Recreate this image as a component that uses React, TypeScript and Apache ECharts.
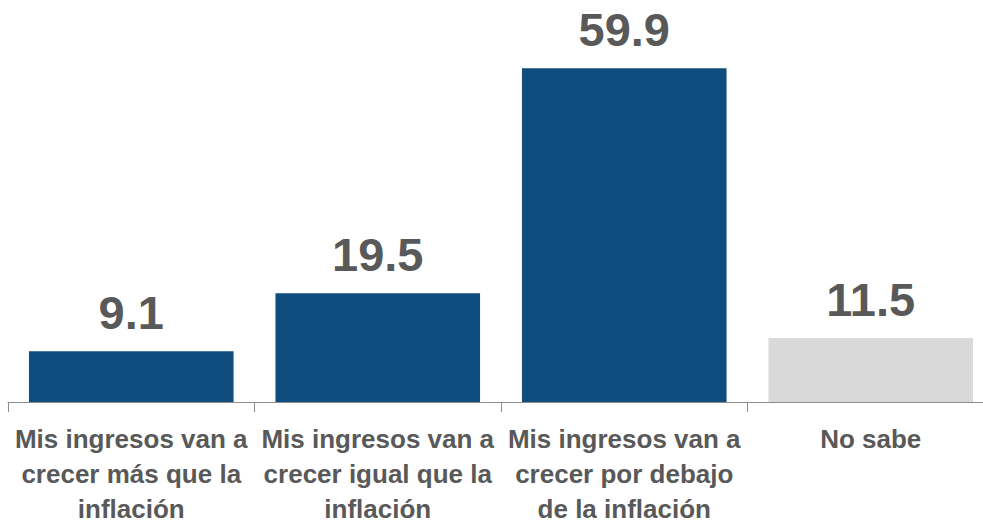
import React, { useEffect, useRef } from "react";
import * as echarts from "echarts";

const categories = [
  "Mis ingresos van a\ncrecer más que la\ninflación",
  "Mis ingresos van a\ncrecer igual que la\ninflación",
  "Mis ingresos van a\ncrecer por debajo\nde la inflación",
  "No sabe",
];
const values = [9.1, 19.5, 59.9, 11.5];
const barColors = ["#0E4D7E", "#0E4D7E", "#0E4D7E", "#D9D9D9"];

export default function App() {
  const ref = useRef<HTMLDivElement>(null);
  useEffect(() => {
    if (!ref.current) return;
    const chart = echarts.init(ref.current, null, { renderer: "svg" });
    chart.setOption({
      animation: false,
      grid: { left: 8, right: 6, top: 12, bottom: 128, containLabel: false },
      xAxis: {
        type: "category",
        data: categories,
        axisLine: { show: true, lineStyle: { color: "#8C8C8C", width: 1 } },
        axisTick: { show: true, length: 10, lineStyle: { color: "#8C8C8C" } },
        axisLabel: {
          interval: 0,
          margin: 19,
          color: "#595959",
          fontFamily: "Liberation Sans, Arial, sans-serif",
          fontWeight: "bold",
          fontSize: 26,
          lineHeight: 35,
        },
      },
      yAxis: { type: "value", min: 0, max: 70, show: false, splitLine: { show: false } },
      series: [
        {
          type: "bar",
          barCategoryGap: "17%",
          data: values.map((v, i) => ({ value: v, itemStyle: { color: barColors[i] } })),
          label: {
            show: true,
            position: "top",
            distance: 15,
            color: "#595959",
            fontFamily: "Liberation Sans, Arial, sans-serif",
            fontWeight: "bold",
            fontSize: 47,
            formatter: (p: any) => p.value.toFixed(1),
          },
        },
      ],
    });
    return () => chart.dispose();
  }, []);
  return (
    <div style={{ position: "fixed", left: 0, top: 0, width: 983, height: 530, overflow: "hidden", background: "#fff" }}>
      <div ref={ref} style={{ position: "absolute", left: 0, top: 0, width: 1000, height: 530 }} />
    </div>
  );
}
